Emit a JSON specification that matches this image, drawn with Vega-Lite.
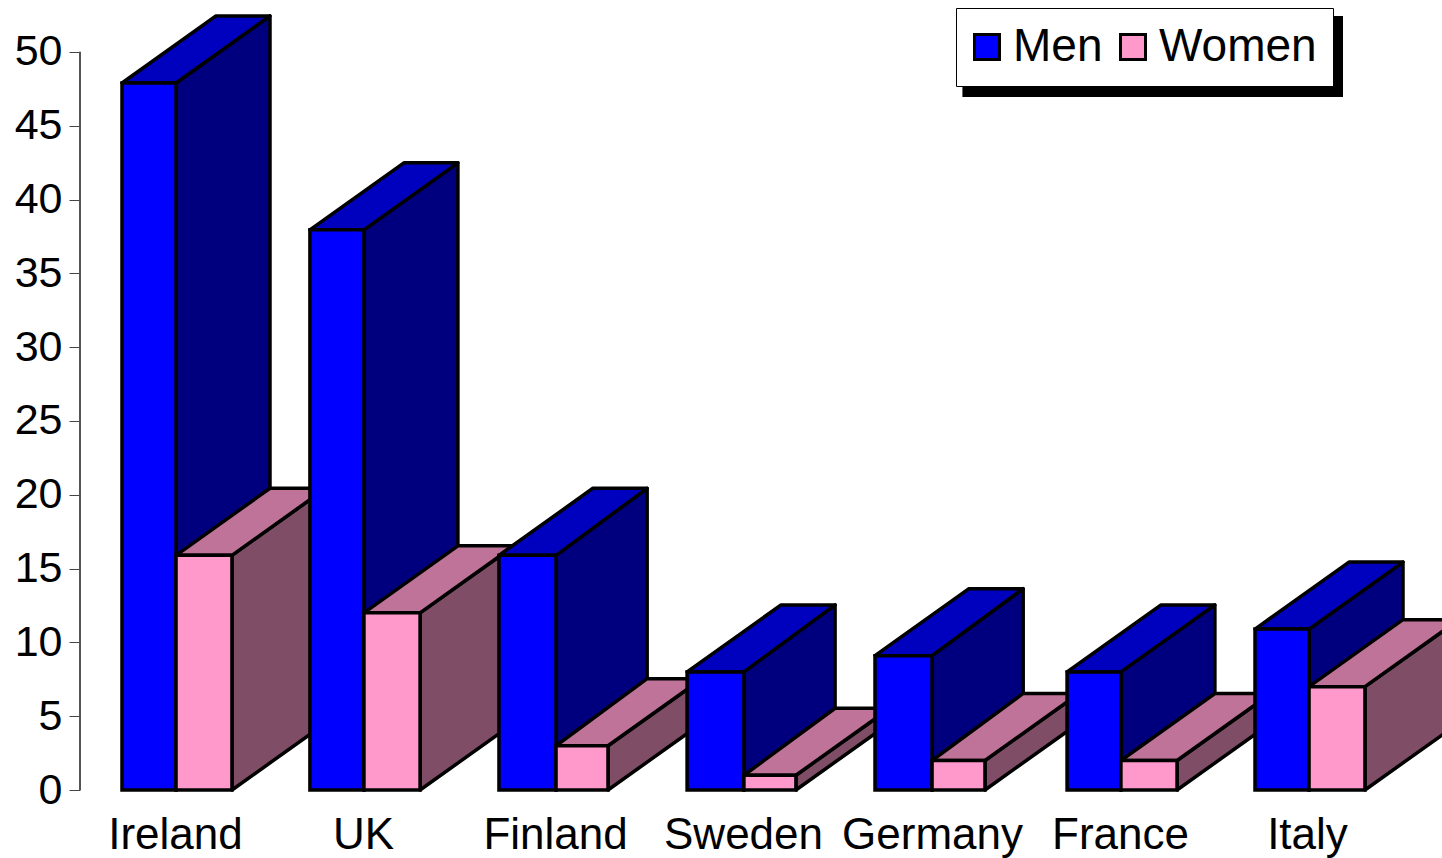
{
"$schema":"https://vega.github.io/schema/vega-lite/v6.json",
"width":1362,"height":790,
"autosize":{"type":"none"},
"padding":{"left":80,"top":0,"right":0,"bottom":68},
"background":"white",
"config":{"view":{"stroke":null},"font":"Liberation Sans"},
"data":{"values":[
{"country":"Ireland","sex":"Men","value":47.9},{"country":"Ireland","sex":"Women","value":15.9},
{"country":"UK","sex":"Men","value":37.95},{"country":"UK","sex":"Women","value":12},
{"country":"Finland","sex":"Men","value":15.9},{"country":"Finland","sex":"Women","value":3},
{"country":"Sweden","sex":"Men","value":8},{"country":"Sweden","sex":"Women","value":1},
{"country":"Germany","sex":"Men","value":9.1},{"country":"Germany","sex":"Women","value":2},
{"country":"France","sex":"Men","value":8},{"country":"France","sex":"Women","value":2},
{"country":"Italy","sex":"Men","value":10.9},{"country":"Italy","sex":"Women","value":7}
]},
"transform":[
{"calculate":"{'Ireland':[0.223,0.510,0.807],'UK':[1.221,1.508,1.806],'Finland':[2.225,2.528,2.804],'Sweden':[3.224,3.526,3.802],'Germany':[4.222,4.525,4.806],'France':[5.242,5.528,5.826],'Italy':[6.240,6.527,6.824]}[datum.country]","as":"edges"},
{"calculate":"datum.sex=='Men'?datum.edges[0]:datum.edges[1]","as":"xl"},
{"calculate":"datum.sex=='Men'?datum.edges[1]:datum.edges[2]","as":"xr"},
{"calculate":"indexof(['Finland','Sweden','Germany'],datum.country)>=0?0.484:0.499","as":"dmid"},
{"calculate":"datum.sex=='Men'?0.499:datum.dmid","as":"dl"},
{"calculate":"datum.sex=='Men'?datum.dmid:0.499","as":"dr"},
{"calculate":"datum.country+'-'+datum.sex","as":"key"},
{"calculate":"0","as":"zero"}
],
"layer":[
{"mark":{"type":"rule","stroke":"#555555","strokeWidth":1},
 "encoding":{
  "x":{"datum":0,"type":"quantitative","scale":{"domain":[0,7.2331],"nice":false,"zero":false},"title":null,
   "axis":{"values":[0.5045,1.503,2.523,3.521,4.525,5.523,6.516],"labelExpr":"datum.value<1?'Ireland':datum.value<2?'UK':datum.value<3?'Finland':datum.value<4?'Sweden':datum.value<5?'Germany':datum.value<6?'France':'Italy'","ticks":false,"domain":false,"grid":false,"labelFontSize":44,"labelColor":"black","labelFont":"Liberation Sans","labelPadding":23,"labelAngle":0,"labelOverlap":false,"labelFlush":false,"labelBound":false,"labelLimit":400}},
  "y":{"datum":0,"type":"quantitative","scale":{"domain":[0,53.52],"nice":false},"title":null,
   "axis":{"values":[0,5,10,15,20,25,30,35,40,45,50],"domain":false,"grid":false,"tickSize":11,"tickColor":"#444444","tickWidth":1,"labelFontSize":43,"labelColor":"black","labelFont":"Liberation Sans","labelPadding":7,"labelOverlap":false,"labelFlush":false,"labelBound":false}},
  "y2":{"datum":50}
 }},
{"mark":{"type":"rect","fill":"black"},
 "encoding":{
  "x":{"datum":4.689,"type":"quantitative"},"x2":{"datum":6.707},
  "y":{"datum":52.44,"type":"quantitative"},"y2":{"datum":46.95}
 }},
{"transform":[{"calculate":"[0,1]","as":"pts"},{"flatten":["pts"]},
  {"calculate":"datum.xr+datum.pts*datum.dr","as":"sx"},
  {"calculate":"datum.value+datum.pts*4.54","as":"sy"},
  {"calculate":"datum.pts*4.54","as":"sb"}],
 "mark":{"type":"area","stroke":"black","strokeWidth":3.5,"strokeJoin":"round","fillOpacity":1},
 "encoding":{
  "x":{"field":"sx","type":"quantitative","title":null},
  "y":{"field":"sy","type":"quantitative","stack":null,"title":null},
  "y2":{"field":"sb"},
  "detail":{"field":"key"},
  "color":{"field":"sex","type":"nominal","scale":{"domain":["Men","Women"],"range":["#00007F","#7F4D66"]},"legend":null}
 }},
{"transform":[{"calculate":"[0,1]","as":"pts"},{"flatten":["pts"]},
  {"calculate":"datum.xl+datum.pts*datum.dl","as":"tx"},
  {"calculate":"datum.xr+datum.pts*datum.dr","as":"tx2"},
  {"calculate":"datum.value+datum.pts*4.54","as":"ty"}],
 "mark":{"type":"area","orient":"horizontal","stroke":"black","strokeWidth":3.5,"strokeJoin":"round","fillOpacity":1},
 "encoding":{
  "y":{"field":"ty","type":"quantitative","stack":null,"title":null},
  "x":{"field":"tx","type":"quantitative","stack":null,"title":null},
  "x2":{"field":"tx2"},
  "detail":{"field":"key"},
  "color":{"field":"sex","type":"nominal","scale":{"domain":["Men","Women"],"range":["#0000BF","#BF7399"]},"legend":null}
 }},
{"mark":{"type":"rect","stroke":"black","strokeWidth":3.5,"strokeJoin":"miter"},
 "encoding":{
  "x":{"field":"xl","type":"quantitative","title":null},"x2":{"field":"xr"},
  "y":{"field":"value","type":"quantitative","title":null},"y2":{"field":"zero"},
  "color":{"field":"sex","type":"nominal","scale":{"domain":["Men","Women"],"range":["#0000FF","#FF99CC"]},
   "legend":{"title":null,"orient":"none","legendX":876,"legendY":8,"direction":"horizontal","columns":2,"symbolType":"square","symbolSize":625,"symbolStrokeColor":"black","symbolStrokeWidth":3,"symbolOpacity":1,"symbolOffset":-8,"labelFontSize":46,"labelColor":"black","labelFont":"Liberation Sans","labelOffset":3,"columnPadding":11,"fillColor":"white","strokeColor":"black","padding":16}}
 }}
],
"resolve":{"scale":{"color":"independent"}}
}
